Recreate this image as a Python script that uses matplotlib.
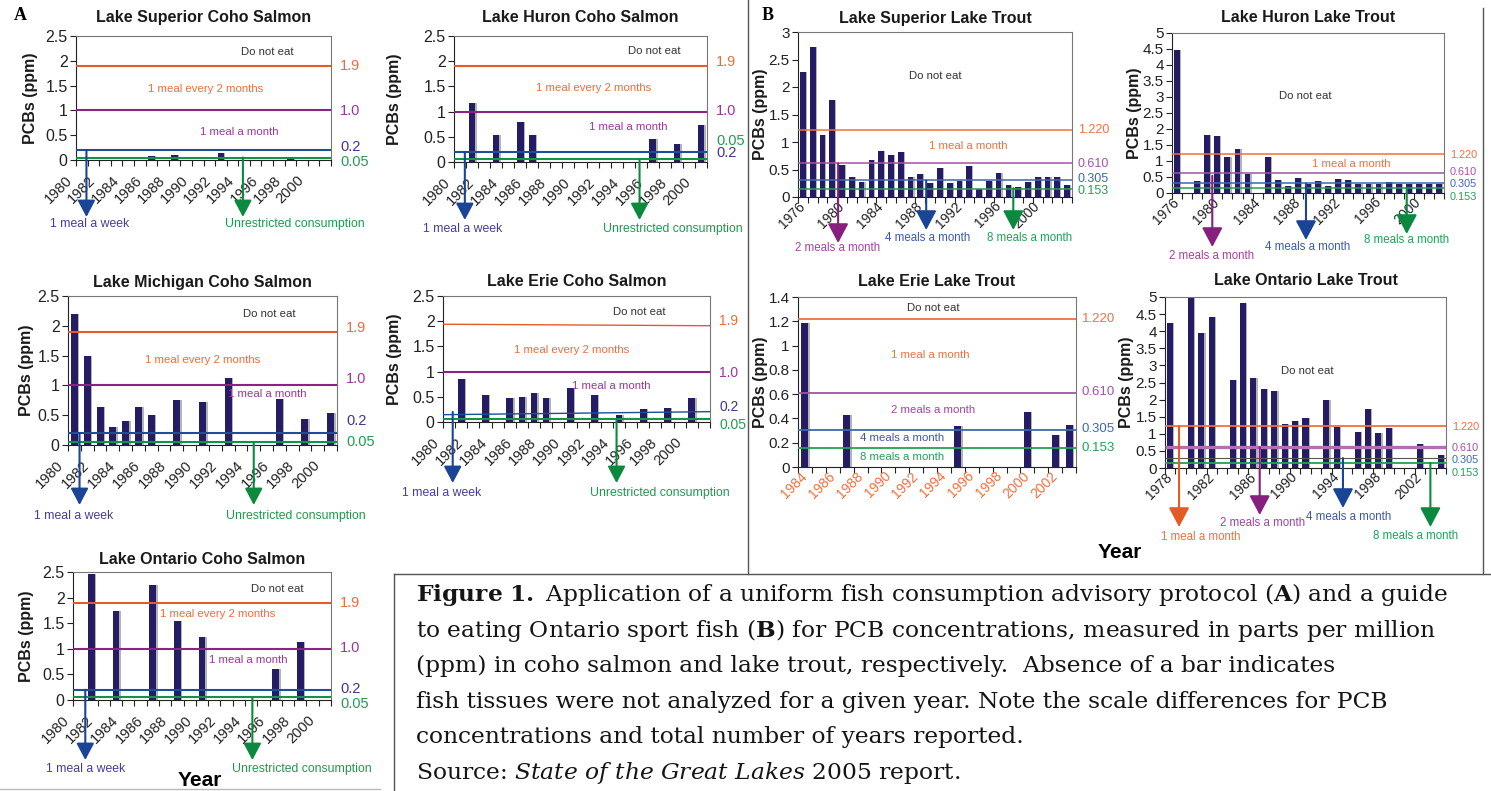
import numpy as np
import matplotlib
matplotlib.use("Agg")
import matplotlib.pyplot as plt
from matplotlib.lines import Line2D
from matplotlib.ticker import FuncFormatter

W, H = 1491, 791
plt.rcParams['font.family'] = ['Liberation Sans', 'DejaVu Sans']
plt.rcParams['mathtext.fontset'] = 'dejavuserif'

# --- PCB concentrations (ppm) -----------------------------------------------
sup_coho_years = [1986, 1988, 1992, 1998]
sup_coho_pcb = [0.09, 0.11, 0.14, 0.03]
huron_coho_years = [1981, 1983, 1985, 1986, 1996, 1998, 2000]
huron_coho_pcb = [1.18, 0.53, 0.79, 0.53, 0.45, 0.35, 0.74]
mich_coho_years = [1980, 1981, 1982, 1983, 1984, 1985, 1986, 1988, 1990, 1992, 1996, 1998, 2000]
mich_coho_pcb = [2.20, 1.50, 0.63, 0.30, 0.40, 0.63, 0.51, 0.75, 0.72, 1.12, 0.77, 0.44, 0.54]
erie_coho_years = [1981, 1983, 1985, 1986, 1987, 1988, 1990, 1992, 1994, 1996, 1998, 2000]
erie_coho_pcb = [0.86, 0.53, 0.48, 0.50, 0.58, 0.48, 0.67, 0.53, 0.14, 0.26, 0.28, 0.48]
ont_coho_years = [1981, 1983, 1986, 1988, 1990, 1996, 1998]
ont_coho_pcb = [2.47, 1.73, 2.24, 1.54, 1.23, 0.60, 1.14]

sup_trout_years = list(range(1976, 2004))
sup_trout_pcb = [2.28, 2.73, 1.12, 1.76, 0.58, 0.37, 0.27, 0.67, 0.83, 0.76,
                 0.81, 0.36, 0.42, 0.25, 0.53, 0.25, 0.30, 0.56, 0.14, 0.30,
                 0.44, 0.21, 0.18, 0.27, 0.36, 0.37, 0.36, 0.21]
huron_trout_years = [1976, 1978, 1979, 1980, 1981, 1982, 1983, 1985, 1986, 1987, 1988, 1989, 1990,
                     1991, 1992, 1993, 1994, 1995, 1996, 1997, 1998, 1999, 2000, 2001, 2002]
huron_trout_pcb = [4.48, 0.39, 1.82, 1.79, 1.14, 1.38, 0.60, 1.14, 0.42, 0.23, 0.48, 0.28, 0.39,
                   0.23, 0.45, 0.42, 0.29, 0.29, 0.29, 0.35, 0.29, 0.29, 0.29, 0.29, 0.29]
erie_trout_years = [1984, 1987, 1995, 2000, 2002, 2003]
erie_trout_pcb = [1.19, 0.43, 0.34, 0.45, 0.265, 0.345]
ont_trout_years = [1978, 1980, 1981, 1982, 1984, 1985, 1986, 1987, 1988, 1989, 1990, 1991, 1993,
                   1994, 1996, 1997, 1998, 1999, 2002, 2004]
ont_trout_pcb = [4.25, 4.98, 3.96, 4.42, 2.56, 4.83, 2.64, 2.32, 2.26, 1.30, 1.38, 1.47, 2.00,
                 1.21, 1.06, 1.73, 1.03, 1.18, 0.71, 0.39]

# advisory limits (ppm)
coho_limits = [1.9, 1.0, 0.2, 0.05]
coho_limit_text = ["1.9", "1.0", "0.2", "0.05"]
trout_limits = [1.220, 0.610, 0.305, 0.153]
trout_limit_text = ["1.220", "0.610", "0.305", "0.153"]

# --- colours ---------------------------------------------------------------
BAR, SHADOW = "#241c64", "#b4b4b4"
DARK = "#333333"
C_OR, C_PU, C_BL, C_GR = "#e65a2a", "#8c2285", "#1d4f96", "#13934a"
T_OR, T_PU, T_BL, T_GR = "#ef6c3a", "#9c359a", "#3d3592", "#1e9e50"
L_OR, L_PU, L_BL, L_GR = "#f07040", "#a452a8", "#3f67b0", "#22a055"
A_PU, A_BL, A_GR, A_OR = "#861f7e", "#1a4596", "#0b8a3f", "#e35b25"
TL_PU, TL_BL = "#a0449e", "#3a5aa8"

fig = plt.figure(figsize=(W / 100, H / 100), dpi=100)


def coho_lines(lw=1.5):
    cols = [C_OR, C_PU, C_BL, C_GR]
    return [(v, v, c, lw) for v, c in zip(coho_limits, cols)]


def trout_lines(lw=1.1):
    cols = [L_OR, L_PU, L_BL, L_GR]
    return [(v, v, c, lw) for v, c in zip(trout_limits, cols)]


def coho_rlabels(ys):
    return list(zip(coho_limit_text, ys, [T_OR, T_PU, T_BL, T_GR]))


def trout_rlabels(ys):
    return list(zip(trout_limit_text, ys, [L_OR, L_PU, L_BL, L_GR]))


def coho_regions(a, b, c):
    return [("Do not eat",) + a + (DARK,),
            ("1 meal every 2 months",) + b + (T_OR,),
            ("1 meal a month",) + c + (T_PU,)]


def coho_arrows(xb, xg, end, lab_b, lab_g, lab_y):
    return [(xb, 0.2, end, A_BL, "1 meal a week", lab_b, lab_y, "#463c9a"),
            (xg, 0.05, end, A_GR, "Unrestricted consumption", lab_g, lab_y, "#1c9a4c")]


erie_lines = coho_lines()
erie_lines[0] = (1.94, 1.91, C_OR, 1.0)
erie_lines[2] = (0.145, 0.205, C_BL, 1.0)

ont_tr_lines = [(1.220, 1.220, L_OR, 1.3), (0.610, 0.610, "#b070b2", 2.4),
                (0.305, 0.305, "#555555", 0.8), (0.153, 0.153, L_GR, 1.3)]

panels = [
    dict(box=(76, 36, 331, 160), cats=(1980, 2001), years=sup_coho_years, pcb=sup_coho_pcb,
         title="Lake Superior Coho Salmon", title_y=18, ylab_x=30, ymax=2.5, ystep=0.5,
         lines=coho_lines(), rlabels=coho_rlabels([1.9, 0.98, 0.27, -0.04]),
         regions=coho_regions((0.75, 2.18), (0.51, 1.43), (0.64, 0.56)),
         arrows=coho_arrows(1980.4, 1993.9, 217, 90, 295, 224)),
    dict(box=(454, 36, 707, 162), cats=(1980, 2000), years=huron_coho_years, pcb=huron_coho_pcb,
         title="Lake Huron Coho Salmon", title_y=18, ylab_x=395, ymax=2.5, ystep=0.5,
         lines=coho_lines(), rlabels=coho_rlabels([1.99, 1.02, 0.18, 0.41]),
         regions=coho_regions((0.79, 2.21), (0.55, 1.46), (0.69, 0.69)),
         arrows=coho_arrows(1980.4, 1994.9, 220, 463, 673, 229)),
    dict(box=(68, 296, 337, 445), cats=(1980, 2000), years=mich_coho_years, pcb=mich_coho_pcb,
         title="Lake Michigan Coho Salmon", title_y=282, ylab_x=27, ymax=2.5, ystep=0.5,
         lines=coho_lines(), rlabels=coho_rlabels([1.96, 1.1, 0.40, 0.05]),
         regions=coho_regions((0.75, 2.19), (0.5, 1.42), (0.74, 0.86)),
         arrows=coho_arrows(1980.4, 1994.0, 505, 74, 296, 516)),
    dict(box=(443, 296, 710, 422), cats=(1980, 2001), years=erie_coho_years, pcb=erie_coho_pcb,
         title="Lake Erie Coho Salmon", title_y=282, ylab_x=395, ymax=2.5, ystep=0.5,
         lines=erie_lines, rlabels=coho_rlabels([2.0, 0.97, 0.29, -0.05]), rl_fs=10,
         regions=coho_regions((0.735, 2.18), (0.48, 1.42), (0.63, 0.72)),
         arrows=coho_arrows(1980.3, 1993.8, 483, 442, 660, 493)),
    dict(box=(73, 572, 331, 700), cats=(1980, 2000), years=ont_coho_years, pcb=ont_coho_pcb,
         title="Lake Ontario Coho Salmon", title_y=559, ylab_x=27, ymax=2.5, ystep=0.5,
         lines=coho_lines(), rlabels=coho_rlabels([1.89, 1.01, 0.22, -0.07]),
         regions=coho_regions((0.79, 2.16), (0.56, 1.68), (0.68, 0.79)),
         arrows=coho_arrows(1980.5, 1994.1, 760, 86, 302, 769)),
    dict(box=(798, 32, 1072, 197), cats=(1976, 2003), years=sup_trout_years, pcb=sup_trout_pcb,
         title="Lake Superior Lake Trout", title_y=18, ylab_x=761, ymax=3, ystep=0.5,
         lines=trout_lines(), rlabels=trout_rlabels([1.22, 0.60, 0.33, 0.11]), rl_fs=9,
         regions=[("Do not eat", 0.5, 2.2, DARK), ("1 meal a month", 0.62, 0.92, L_OR)],
         arrows=[(1979.6, 0.61, 243, A_PU, "2 meals a month", 838, 248, TL_PU),
                 (1988.6, 0.30, 230, A_BL, "4 meals a month", 928, 238, TL_BL),
                 (1997.5, 0.16, 230, A_GR, "8 meals a month", 1030, 238, L_GR)]),
    dict(box=(1172, 33, 1444, 193), cats=(1976, 2002), years=huron_trout_years, pcb=huron_trout_pcb,
         title="Lake Huron Lake Trout", title_y=18, ylab_x=1135, ymax=5, ystep=0.5,
         lines=trout_lines(), rlabels=trout_rlabels([1.19, 0.66, 0.27, -0.12]), rl_fs=7.8,
         regions=[("Do not eat", 0.49, 3.02, DARK), ("1 meal a month", 0.66, 0.9, L_OR)],
         arrows=[(1979.5, 0.54, 247, A_PU, "2 meals a month", 1212, 256, TL_PU),
                 (1988.8, 0.29, 240, A_BL, "4 meals a month", 1308, 247, TL_BL),
                 (1998.8, 0.17, 234, A_GR, "8 meals a month", 1407, 240, L_GR)]),
    dict(box=(798, 297, 1076, 467), cats=(1984, 2003), years=erie_trout_years, pcb=erie_trout_pcb,
         title="Lake Erie Lake Trout", title_y=281, ylab_x=760, ymax=1.4, ystep=0.2,
         lines=trout_lines(1.3), rlabels=trout_rlabels([1.22, 0.62, 0.31, 0.16]), rl_fs=9.5,
         regions=[("Do not eat", 0.485, 1.31, DARK), ("1 meal a month", 0.475, 0.92, L_OR),
                  ("2 meals a month", 0.485, 0.47, TL_PU), ("4 meals a month", 0.374, 0.24, TL_BL),
                  ("8 meals a month", 0.374, 0.08, L_GR)],
         arrows=[], step=2, xl_color=L_OR),
    dict(box=(1165, 297, 1446, 468), cats=(1978, 2004), years=ont_trout_years, pcb=ont_trout_pcb,
         title="Lake Ontario Lake Trout", title_y=281, ylab_x=1127, ymax=5, ystep=0.5,
         lines=ont_tr_lines, rlabels=trout_rlabels([1.20, 0.585, 0.225, -0.14]), rl_fs=7.8,
         regions=[("Do not eat", 0.505, 2.83, DARK)],
         arrows=[(1978.85, 1.22, 527, A_OR, "1 meal a month", 1201, 537, L_OR),
                 (1986.6, 0.61, 515, A_PU, "2 meals a month", 1263, 523, TL_PU),
                 (1994.6, 0.29, 508, A_BL, "4 meals a month", 1349, 517, TL_BL),
                 (2003.0, 0.15, 527, A_GR, "8 meals a month", 1416, 536, L_GR)]),
]


def draw_panel(p, coho):
    l, t, r, b = p["box"]
    hpx = b - t
    ax = fig.add_axes([l / W, 1 - b / H, (r - l) / W, hpx / H])
    first, last = p["cats"]
    lo, hi = first - 0.5, last + 0.5
    yrs = np.asarray(p["years"], float)
    bw = 0.55 if coho else (0.5 if last - first < 22 else 0.58)
    ax.bar(yrs + 0.12, p["pcb"], width=bw, color=SHADOW, zorder=2)
    ax.bar(yrs, p["pcb"], width=bw, color=BAR, zorder=3)
    for v0, v1, c, lw in p["lines"]:
        ax.plot([lo, hi], [v0, v1], color=c, lw=lw, zorder=4, solid_capstyle="butt")
    ax.set_xlim(lo, hi)
    ax.set_ylim(0, p["ymax"])
    ax.set_yticks(np.arange(0, p["ymax"] + 1e-6, p["ystep"]))
    ax.yaxis.set_major_formatter(FuncFormatter(lambda v, _: f"{v:g}"))
    ax.set_xticks(np.arange(lo, hi + 0.01, 1.0))
    ax.set_xticklabels([])
    ax.tick_params(direction="out", length=4, width=0.8, color="#222222")
    ax.tick_params(axis="y", labelsize=11.5 if coho else 11, pad=2, labelcolor="#222222")
    for s in ("left", "bottom"):
        ax.spines[s].set_color("#222222")
    for s in ("top", "right"):
        ax.spines[s].set_color("#777777")

    # rotated year labels
    step = p.get("step", 2 if coho else 4)
    shift = -1.0 if coho else 0.0
    dy = (18 if coho else 7) / hpx
    for yr in range(first, last + 1, step):
        ax.text(yr + shift, -dy, str(yr), transform=ax.get_xaxis_transform(),
                rotation=45, rotation_mode="anchor", ha="right", va="center",
                fontsize=10.5 if coho else 10, color=p.get("xl_color", "#222222"), clip_on=False)

    ax.text(0.5, 1 + (t - p["title_y"]) / hpx, p["title"], transform=ax.transAxes,
            ha="center", va="center", fontsize=11.5, fontweight="bold", color="#1a1a1a")
    fig.text(p["ylab_x"] / W, 1 - (t + b) / 2 / H, "PCBs (ppm)", rotation=90,
             ha="center", va="center", fontsize=11.5, fontweight="bold", color="#1a1a1a")

    off = 1 + (9 if coho else 6) / (r - l)
    for txt, y, c in p["rlabels"]:
        ax.text(off, y, txt, transform=ax.get_yaxis_transform(), ha="left", va="center",
                fontsize=p.get("rl_fs", 10.5), color=c, clip_on=False)
    for txt, xf, y, c in p["regions"]:
        ax.text(xf, y, txt, transform=ax.get_yaxis_transform(), ha="center", va="center",
                fontsize=8.2, color=c, zorder=6)
    for x, y0, end_px, c, lab, lx, ly, lc in p["arrows"]:
        ms = 12 if coho else 14
        ax.annotate("", xy=(x, (b - end_px) / hpx), xycoords=("data", "axes fraction"),
                    xytext=(x, y0), textcoords="data", annotation_clip=False, zorder=5,
                    arrowprops=dict(arrowstyle="-|>,head_length=0.85,head_width=0.45",
                                    mutation_scale=ms, lw=1.5, color=c, shrinkA=0, shrinkB=0))
        fig.text(lx / W, 1 - ly / H, lab, ha="center", va="center",
                 fontsize=8.8 if coho else 8.3, color=lc)
    return ax


for i, p in enumerate(panels):
    draw_panel(p, coho=i < 5)

# panel letters, axis titles
fig.text(14 / W, 1 - 15 / H, "A", fontsize=13, fontweight="bold", family="Liberation Serif",
         ha="left", va="center")
fig.text(762 / W, 1 - 15 / H, "B", fontsize=13, fontweight="bold", family="Liberation Serif",
         ha="left", va="center")
fig.text(200 / W, 1 - 780 / H, "Year", fontsize=15, fontweight="bold", ha="center", va="center")
fig.text(1120 / W, 1 - 553 / H, "Year", fontsize=15, fontweight="bold", ha="center", va="center")


# frames
def frame(x0, y0, x1, y1, color="#555555", lw=1.0):
    fig.add_artist(Line2D([x0 / W, x1 / W], [1 - y0 / H, 1 - y1 / H], color=color, lw=lw))


frame(748, 0, 748, 574)
frame(1483, 8, 1483, 574)
frame(394, 574, 1491, 574)
frame(394, 574, 394, 791)
frame(0, 789, 380, 789, color="#bbbbbb")

# caption
caption = [
    r"$\mathbf{Figure\ 1.}$ Application of a uniform fish consumption advisory protocol ($\mathbf{A}$) and a guide",
    r"to eating Ontario sport fish ($\mathbf{B}$) for PCB concentrations, measured in parts per million",
    "(ppm) in coho salmon and lake trout, respectively.  Absence of a bar indicates",
    "fish tissues were not analyzed for a given year. Note the scale differences for PCB",
    "concentrations and total number of years reported.",
    r"Source: $\mathit{State\ of\ the\ Great\ Lakes\ 2005}$ report.",
]
for i, line in enumerate(caption):
    fig.text(416 / W, 1 - (595 + 35.6 * i) / H, line, ha="left", va="center",
             fontsize=16.8, family="DejaVu Serif", color="#151515")

fig.savefig("out.png", dpi=100)
